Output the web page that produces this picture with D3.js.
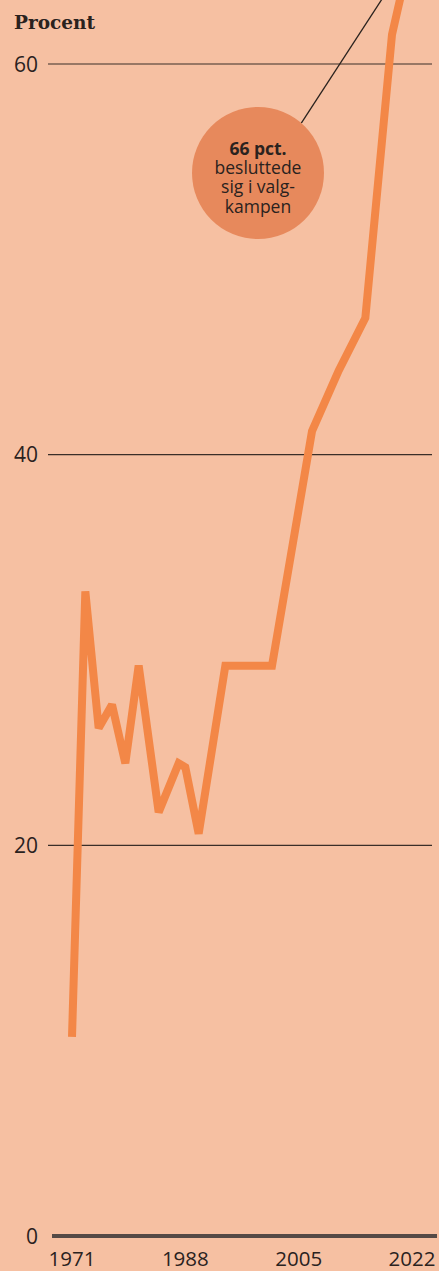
<!DOCTYPE html>
<html>
<head>
<meta charset="utf-8">
<script src="https://cdn.jsdelivr.net/npm/d3@7"></script>
<style>
	html, body { margin: 0; padding: 0; background: #f6c0a2; }
	svg { display: block; }
</style>
</head>
<body>
<svg id="chart"></svg>
<script>
/*global d3 */
// Data
var years = [1971, 1973, 1975, 1977, 1979, 1981, 1984, 1987, 1988, 1990,
	1994, 1998, 2001, 2005, 2007, 2011, 2015, 2019, 2022];
var values = [10.2, 33, 26, 27.2, 24.2, 29.2, 21.7, 24.2, 24, 20.6,
	29.2, 29.2, 29.2, 37.2, 41.2, 44.3, 47, 61.5, 66];
var yTicks = [0, 20, 40, 60];
var xTicks = [1971, 1988, 2005, 2022];
var unitLabel = 'Procent';
var noteLines = ['66 pct.', 'besluttede', 'sig i valg-', 'kampen'];

(function (global) {
	'use strict';
	var width = 439, height = 1271,
		svg, x, y, line, points, note, target, angle, start,
		labelFont = '"Open Sans", sans-serif';

	svg = d3.select('#chart')
		.attr('width', width)
		.attr('height', height);

	// scales
	x = d3.scaleLinear().domain([1971, 2022]).range([72, 412]);
	y = d3.scaleLinear().domain([0, 60]).range([1236, 64]);

	// title
	svg.append('text')
		.attr('x', 14)
		.attr('y', 29)
		.attr('font-family', '"DejaVu Serif", serif')
		.attr('font-weight', 'bold')
		.attr('font-size', 18.5)
		.attr('fill', '#2a221e')
		.text(unitLabel);

	// gridlines
	svg.selectAll('line.grid')
		.data(yTicks.filter(function (d) { return d > 0; }))
		.enter().append('line')
		.attr('class', 'grid')
		.attr('x1', 48)
		.attr('x2', 432)
		.attr('y1', function (d) { return y(d); })
		.attr('y2', function (d) { return y(d); })
		.attr('stroke', '#3a2e28')
		.attr('stroke-width', 1.2);

	// baseline
	svg.append('line')
		.attr('x1', 52)
		.attr('x2', 437)
		.attr('y1', y(0))
		.attr('y2', y(0))
		.attr('stroke', '#554a46')
		.attr('stroke-width', 4);

	// y labels
	svg.selectAll('text.ytick')
		.data(yTicks)
		.enter().append('text')
		.attr('class', 'ytick')
		.attr('x', 38)
		.attr('y', function (d) { return y(d); })
		.attr('dy', '0.36em')
		.attr('text-anchor', 'end')
		.attr('font-family', labelFont)
		.attr('font-size', 21)
		.attr('fill', '#2a221e')
		.text(function (d) { return d; });

	// x labels
	svg.selectAll('text.xtick')
		.data(xTicks)
		.enter().append('text')
		.attr('class', 'xtick')
		.attr('x', function (d) { return x(d); })
		.attr('y', 1266)
		.attr('text-anchor', 'middle')
		.attr('font-family', labelFont)
		.attr('font-size', 20.5)
		.attr('fill', '#2a221e')
		.text(function (d) { return d; });

	// the line itself
	points = years.map(function (d, i) {
		return [d, values[i]];
	});
	line = d3.line()
		.x(function (d) { return x(d[0]); })
		.y(function (d) { return y(d[1]); });

	svg.append('path')
		.datum(points)
		.attr('d', line)
		.attr('fill', 'none')
		.attr('stroke', '#f38747')
		.attr('stroke-width', 8)
		.attr('stroke-linejoin', 'miter')
		.attr('stroke-miterlimit', 2);

	// annotation bubble
	note = { cx: 258, cy: 173, r: 66 };
	target = points[points.length - 1];
	angle = -49 * Math.PI / 180;
	start = [note.cx + note.r * Math.cos(angle), note.cy + note.r * Math.sin(angle)];

	svg.append('line')
		.attr('x1', start[0])
		.attr('y1', start[1])
		.attr('x2', x(target[0]) + 4)
		.attr('y2', y(target[1]))
		.attr('stroke', '#2a221e')
		.attr('stroke-width', 1.3);

	svg.append('circle')
		.attr('cx', note.cx)
		.attr('cy', note.cy)
		.attr('r', note.r)
		.attr('fill', '#e7895c');

	svg.selectAll('text.note')
		.data(noteLines)
		.enter().append('text')
		.attr('class', 'note')
		.attr('x', note.cx)
		.attr('y', function (d, i) { return 155 + i * 19.2; })
		.attr('text-anchor', 'middle')
		.attr('font-family', labelFont)
		.attr('font-size', 17.5)
		.attr('font-weight', function (d, i) { return i === 0 ? 'bold' : 'normal'; })
		.attr('fill', '#2a221e')
		.text(function (d) { return d; });
}(this));
</script>
</body>
</html>
